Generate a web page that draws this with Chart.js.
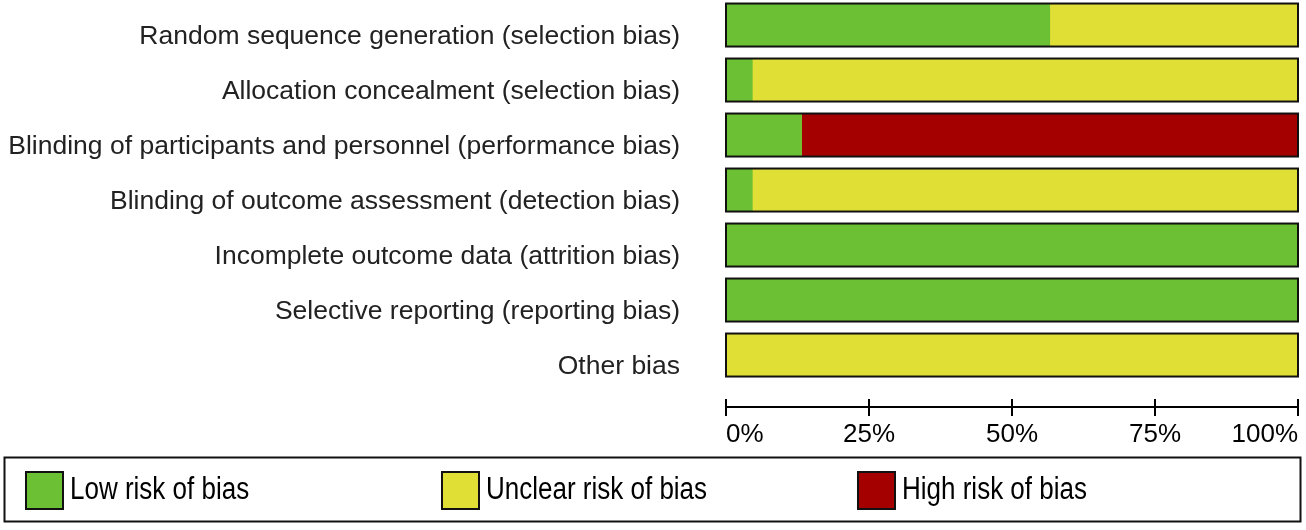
<!DOCTYPE html>
<html>
<head>
<meta charset="utf-8">
<script src="https://cdn.jsdelivr.net/npm/chart.js@4.4.1/dist/chart.umd.min.js"></script>
<style>
  html, body { margin: 0; padding: 0; background: #fff; }
  #wrap { width: 1306px; height: 530px; }
</style>
</head>
<body>
<div id="wrap"><canvas id="robChart" width="1306" height="530"></canvas></div>
<script>
// risk of bias summary, percent of studies per domain
const categories = [
  "Random sequence generation (selection bias)",
  "Allocation concealment (selection bias)",
  "Blinding of participants and personnel (performance bias)",
  "Blinding of outcome assessment (detection bias)",
  "Incomplete outcome data (attrition bias)",
  "Selective reporting (reporting bias)",
  "Other bias"
];
const lowRisk     = [56.6, 4.6, 13.2, 4.6, 100, 100, 0];
const unclearRisk = [43.4, 95.4, 0, 95.4, 0, 0, 100];
const highRisk    = [0, 0, 86.8, 0, 0, 0, 0];
const seriesNames  = ["Low risk of bias", "Unclear risk of bias", "High risk of bias"];
const seriesColors = ["#6cc033", "#e0df36", "#a40000"];
const xTickLabels  = ["0%", "25%", "50%", "75%", "100%"];

Chart.defaults.font.family = "'Liberation Sans', Arial, sans-serif";

const toPoints = arr => arr.map((v, i) => ({ x: v, y: i }));

// outline round each full bar, upper half of the axis ticks, boxed legend
const robExtras = {
  id: "robExtras",
  afterDatasetsDraw(chart) {
    const ctx = chart.ctx, xs = chart.scales.x, ys = chart.scales.y;
    const half = 43 / 2;
    ctx.save();
    ctx.strokeStyle = "#111";
    ctx.lineWidth = 2;
    categories.forEach((c, i) => {
      const y = ys.getPixelForValue(i);
      const x0 = xs.getPixelForValue(0), x1 = xs.getPixelForValue(100);
      ctx.strokeRect(x0, y - half, x1 - x0, half * 2);
    });
    ctx.restore();
  },
  afterDraw(chart) {
    const ctx = chart.ctx, xs = chart.scales.x;
    const base = chart.chartArea.bottom;
    ctx.save();
    ctx.strokeStyle = "#000";
    ctx.lineWidth = 2;
    xs.ticks.forEach(t => {
      const x = Math.round(xs.getPixelForValue(t.value));
      ctx.beginPath();
      ctx.moveTo(x, base - 8);
      ctx.lineTo(x, base);
      ctx.stroke();
    });

    // legend box
    ctx.strokeStyle = "#111";
    ctx.strokeRect(4.5, 457.5, 1296, 64);
    chart.data.datasets.forEach((ds, i) => {
      const sx = 26 + i * 416, sy = 472;
      ctx.fillStyle = ds.backgroundColor;
      ctx.fillRect(sx, sy, 37, 37);
      ctx.strokeStyle = "#111";
      ctx.strokeRect(sx, sy, 37, 37);
      ctx.save();
      ctx.translate(sx + 44, 490);
      ctx.scale(1, 1.2);
      ctx.fillStyle = "#000";
      ctx.font = "26px 'Liberation Sans', Arial, sans-serif";
      ctx.textBaseline = "middle";
      ctx.textAlign = "left";
      ctx.fillText(ds.label, 0, 0);
      ctx.restore();
    });
    ctx.restore();
  }
};

new Chart(document.getElementById("robChart"), {
  type: "bar",
  data: {
    datasets: [
      { label: seriesNames[0], data: toPoints(lowRisk), backgroundColor: seriesColors[0], stack: "s" },
      { label: seriesNames[1], data: toPoints(unclearRisk), backgroundColor: seriesColors[1], stack: "s" },
      { label: seriesNames[2], data: toPoints(highRisk), backgroundColor: seriesColors[2], stack: "s" }
    ]
  },
  options: {
    indexAxis: "y",
    responsive: false,
    animation: false,
    barThickness: 43,
    borderWidth: 0,
    layout: { padding: { left: 0, right: 8, top: 0, bottom: 83 } },
    plugins: { legend: { display: false }, tooltip: { enabled: false } },
    scales: {
      y: {
        type: "linear",
        reverse: true,
        stacked: true,
        offset: false,
        min: -0.455,
        max: 6.945,
        afterBuildTicks: s => { s.ticks = categories.map((c, i) => ({ value: i })); },
        afterFit: s => { s.width = 726; s.paddingTop = 0; s.paddingBottom = 0; },
        grid: { display: false, offset: false },
        border: { display: false },
        ticks: {
          autoSkip: false,
          callback: v => categories[v],
          font: { size: 26.5 },
          color: "#222",
          padding: 38,
          labelOffset: 12
        }
      },
      x: {
        type: "linear",
        min: 0,
        max: 100,
        stacked: true,
        afterFit: s => { s.height = 40; s.paddingLeft = 0; s.paddingRight = 0; },
        grid: { drawOnChartArea: false, drawTicks: true, tickLength: 9, color: "#000", lineWidth: 2 },
        border: { display: true, color: "#000", width: 2 },
        ticks: {
          stepSize: 25,
          align: "inner",
          maxRotation: 0,
          font: { size: 26 },
          color: "#000",
          padding: 3,
          callback: (v, i) => xTickLabels[i]
        }
      }
    }
  },
  plugins: [robExtras]
});
</script>
</body>
</html>
